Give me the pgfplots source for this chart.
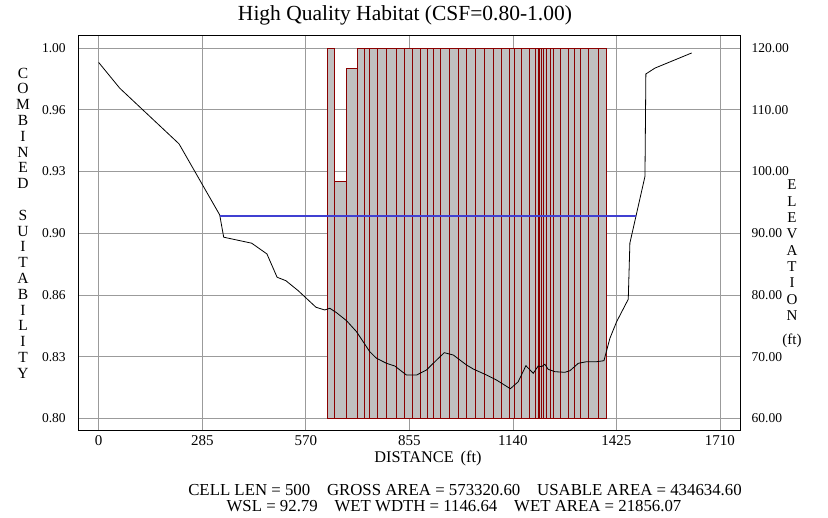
\documentclass[border=0pt]{standalone}
\usepackage{pgfplots}
\pgfplotsset{compat=1.18}
\usepackage{pgfplotstable}
\usepackage{fontspec}
\setmainfont{Liberation Serif}
\definecolor{barred}{RGB}{139,0,0}
\definecolor{barfill}{RGB}{192,192,192}
\definecolor{wslblue}{RGB}{64,64,210}
\definecolor{gridgray}{RGB}{155,155,155}

\pgfplotstableread{
x h
629.8 1.00
649.9 0.928
682.1 0.989
711.3 1
730.5 1
746.2 1
766.3 1
792.2 1
819.8 1
842.6 1
863.8 1
885.9 1
904.0 1
920.5 1
940.9 1
964.6 1
990.5 1
1013.3 1
1038.1 1
1062.9 1
1085.7 1
1108.9 1
1129.8 1
1145.5 1
1164.0 1
1186.8 1
1202.0 1
1209.7 1
1214.3 1
1219.8 1
1224.0 1
1232.2 1
1244.6 1
1252.9 1
1272.2 1
1292.3 1
1309.4 1
1327.2 1
1349.3 1
1374.9 1
1398.8 1
}\bars

\pgfplotstableread{
x e
0 117.66
57.8 113.5
221 104.48
333 92.97
344 89.35
421 88.38
463 86.64
491 82.86
515 82.31
549 80.69
598 78.0
622 77.56
636 77.84
654.5 77.12
682 75.83
709.6 74.04
746 70.8
764.6 69.73
792 68.92
815 68.48
847 67.02
875 67.02
902 67.83
930 69.45
951 70.64
976 70.26
1012.5 68.64
1031 67.99
1067.6 67.02
1095 66.2
1133 64.8
1154.6 65.93
1175.8 68.53
1196 67.3
1209.7 68.48
1219 68.37
1228 68.76
1237 67.95
1255.6 67.56
1283 67.46
1297 67.72
1320 68.92
1343 69.18
1370.5 69.18
1390.6 69.34
1407 72.97
1425.5 75.66
1457.5 79.3
1462 88.4
1503.5 99.2
1506 115.8
1531 116.75
1632 119.2
}\elev

\begin{document}
\begin{tikzpicture}[x=1pt,y=1pt]
\useasboundingbox (0,0) rectangle (828,518);
\begin{axis}[
  at={(78pt,87.3pt)}, anchor=south west,
  scale only axis, width=662.7pt, height=395pt,
  xmin=-57, xmax=1767,
  ymin=0.793333, ymax=1.006667,
  y coord trafo/.code={\pgfmathparse{#1-0.8}},
  y coord inv trafo/.code={\pgfmathparse{#1+0.8}},
  xtick={0,285,570,855,1140,1425,1710},
  xticklabels={0,285,570,855,1140,1425,1710},
  ytick={0.8,0.833333,0.866667,0.9,0.933333,0.966667,1.0},
  yticklabels={0.80,0.83,0.86,0.90,0.93,0.96,1.00},
  /pgf/number format/assume math mode=true,
  grid=major, major grid style={gridgray, line width=0.8pt},
  tick style={draw=none},
  axis line style={black, line width=0.8pt},
  xticklabel style={font=\fontsize{15}{18}\selectfont, yshift=-1.5pt},
  yticklabel style={font=\fontsize{13.5}{16}\selectfont, xshift=-8.8pt},
  clip=true,
]
\addplot[ybar interval, fill=barfill, draw=barred, line width=0.9pt] table[x=x,y=h]{\bars};
\end{axis}
\begin{axis}[
  at={(78pt,87.3pt)}, anchor=south west,
  scale only axis, width=662.7pt, height=395pt,
  xmin=-57, xmax=1767,
  ymin=58, ymax=122,
  axis x line=none, axis y line*=right,
  ytick={60,70,80,90,100,110,120},
  yticklabels={60.00,70.00,80.00,90.00,100.00,110.00,120.00},
  /pgf/number format/assume math mode=true,
  tick style={draw=none},
  axis line style={black, line width=0.8pt},
  yticklabel style={font=\fontsize{13.5}{16}\selectfont, xshift=7.4pt},
]
\addplot[black, line width=0.8pt] table[x=x,y=e]{\elev};
\addplot[wslblue, line width=1.2pt] coordinates {(332.5,92.79) (1479.1,92.79)};
\end{axis}
\node[anchor=base, font=\fontsize{21.5}{24}\selectfont] at (405,497.3) {High Quality Habitat (CSF=0.80-1.00)};
\node[anchor=base, font=\fontsize{16.3}{20}\selectfont] at (428,55.5) {DISTANCE\hspace{7pt}(ft)};
\node[anchor=base, font=\fontsize{16.8}{20}\selectfont] at (465,22.5) {CELL LEN = 500\quad GROSS AREA = 573320.60\quad USABLE AREA = 434634.60};
\node[anchor=base, font=\fontsize{16.8}{20}\selectfont] at (454,6.5) {WSL = 92.79\quad WET WDTH = 1146.64\quad WET AREA = 21856.07};
\node[align=center, font=\fontsize{15.5}{15.8}\selectfont, inner sep=0pt] at (23,295) {C\\O\\M\\B\\I\\N\\E\\D\\[15.8pt]S\\U\\I\\T\\A\\B\\I\\L\\I\\T\\Y};
\node[align=center, font=\fontsize{15}{16.3}\selectfont, inner sep=0pt] at (792,254) {E\\L\\E\\V\\A\\T\\I\\O\\N\\[8pt](ft)};
\end{tikzpicture}
\end{document}
